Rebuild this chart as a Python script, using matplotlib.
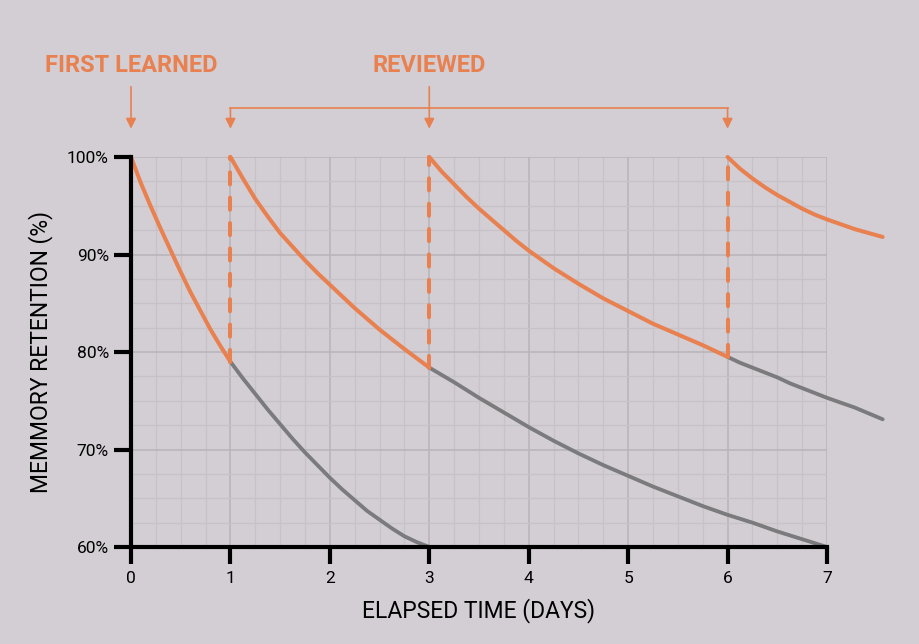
import matplotlib
matplotlib.use("Agg")
import matplotlib.pyplot as plt
from matplotlib.ticker import MultipleLocator, FuncFormatter

# ==========================================
# DATA
# ==========================================
# first learning, orange until first review
learn_t = [0, 0.1, 0.2, 0.3, 0.4, 0.5, 0.6, 0.7, 0.8, 0.9, 1.0]
learn_r = [100, 97.3, 94.9, 92.6, 90.4, 88.2, 86.1, 84.2, 82.3, 80.6, 79.0]
# forgetting without review (gray)
forget1_t = [1.0, 1.125, 1.25, 1.375, 1.5, 1.625, 1.75, 1.875, 2.0,
             2.125, 2.25, 2.375, 2.5, 2.625, 2.75, 2.875, 3.0]
forget1_r = [79.0, 77.3, 75.7, 74.1, 72.6, 71.1, 69.7, 68.4, 67.1,
             65.9, 64.8, 63.7, 62.8, 61.9, 61.1, 60.5, 60.0]

review1_t = [1.0, 1.125, 1.25, 1.375, 1.5, 1.625, 1.75, 1.875, 2.0,
             2.25, 2.5, 2.75, 3.0]
review1_r = [100, 97.8, 95.7, 93.9, 92.2, 90.8, 89.4, 88.1, 86.9,
             84.5, 82.3, 80.3, 78.4]
forget2_t = [3.0, 3.25, 3.5, 3.75, 4.0, 4.25, 4.5, 4.75, 5.0, 5.25, 5.5,
             5.75, 6.0, 6.25, 6.5, 6.75, 7.0]
forget2_r = [78.4, 76.9, 75.3, 73.8, 72.3, 70.9, 69.6, 68.4, 67.3, 66.2, 65.2,
             64.2, 63.3, 62.5, 61.6, 60.8, 60.0]

review2_t = [3.0, 3.125, 3.25, 3.375, 3.5, 3.625, 3.75, 3.875, 4.0,
             4.25, 4.5, 4.75, 5.0, 5.25, 5.5, 5.75, 6.0]
review2_r = [100, 98.5, 97.2, 95.9, 94.7, 93.6, 92.5, 91.4, 90.4,
             88.6, 87.0, 85.5, 84.2, 82.9, 81.8, 80.7, 79.5]
forget3_t = [6.0, 6.125, 6.25, 6.375, 6.5, 6.625, 6.75, 6.875, 7.0,
             7.14, 7.28, 7.42, 7.56]
forget3_r = [79.5, 78.9, 78.4, 77.9, 77.4, 76.8, 76.3, 75.8, 75.3,
             74.8, 74.3, 73.7, 73.1]

review3_t = [6.0, 6.125, 6.25, 6.375, 6.5, 6.625, 6.75, 6.875, 7.0,
             7.14, 7.28, 7.42, 7.56]
review3_r = [100, 98.8, 97.8, 96.9, 96.1, 95.4, 94.7, 94.1, 93.6,
             93.1, 92.6, 92.2, 91.8]

review_days = [1, 3, 6]
review_drop = [79.0, 78.4, 79.5]

x_ticks = [0, 1, 2, 3, 4, 5, 6, 7]
y_ticks = [60, 70, 80, 90, 100]

# ==========================================
# STYLE
# ==========================================
BG = "#d3ced4"
ORANGE = "#e8804f"
GRAY = "#7b7a7c"
plt.rcParams["font.family"] = ["Roboto", "DejaVu Sans"]

fig = plt.figure(figsize=(9.2, 6.44), dpi=100, facecolor=BG)
ax = fig.add_axes([0.1424, 0.1506, 0.7565, 0.6056])
ax.set_facecolor(BG)

ax.set_xlim(0, 7)
ax.set_ylim(60, 100)

# grid
ax.xaxis.set_major_locator(MultipleLocator(1))
ax.xaxis.set_minor_locator(MultipleLocator(0.25))
ax.yaxis.set_major_locator(MultipleLocator(10))
ax.yaxis.set_minor_locator(MultipleLocator(2.5))
ax.grid(which="major", color="#b9b5ba", lw=1.2, zorder=0)
ax.grid(which="minor", color="#c6c2c7", lw=0.9, zorder=0)
ax.set_axisbelow(True)

# curves
lw = 2.9
for t, r in [(learn_t, learn_r), (review1_t, review1_r),
             (review2_t, review2_r), (review3_t, review3_r)]:
    ax.plot(t, r, color=ORANGE, lw=lw, solid_capstyle="round",
            solid_joinstyle="round", clip_on=False, zorder=4)
for t, r in [(forget1_t, forget1_r), (forget2_t, forget2_r), (forget3_t, forget3_r)]:
    ax.plot(t, r, color=GRAY, lw=lw * 0.95, solid_capstyle="round",
            solid_joinstyle="round", clip_on=False, zorder=3)

# dashed review jumps
for d, low in zip(review_days, review_drop):
    ax.plot([d, d], [low, 100], color=ORANGE, lw=lw, linestyle=(0, (3.0, 3.3)),
            dash_capstyle="round", clip_on=False, zorder=4)

# spines and ticks
for s in ["top", "right"]:
    ax.spines[s].set_visible(False)
for s in ["left", "bottom"]:
    ax.spines[s].set_linewidth(3)
    ax.spines[s].set_color("black")
    ax.spines[s].set_zorder(5)
ax.set_xticks(x_ticks)
ax.set_yticks(y_ticks)
ax.yaxis.set_major_formatter(FuncFormatter(lambda v, p: f"{int(v)}%"))
ax.tick_params(which="major", length=12, width=3, color="black",
               labelsize=12.5, labelcolor="black")
ax.tick_params(axis="y", pad=4)
ax.tick_params(axis="x", pad=5)
ax.tick_params(which="minor", length=0)

ax.set_xlabel("ELAPSED TIME (DAYS)", fontsize=16.5, labelpad=9)
ax.set_ylabel("MEMMORY RETENTION (%)", fontsize=16.5, labelpad=10)

# annotations above the plot
arrow_kw = dict(arrowstyle="-|>,head_length=0.6,head_width=0.3", color=ORANGE,
                lw=1.2, shrinkA=0, shrinkB=0, mutation_scale=10)
ax.annotate("", xy=(0, 102.9), xytext=(0, 107.2), arrowprops=arrow_kw,
            annotation_clip=False)
ax.annotate("", xy=(3, 102.9), xytext=(3, 107.2), arrowprops=arrow_kw,
            annotation_clip=False)
for d in [1, 6]:
    ax.annotate("", xy=(d, 102.9), xytext=(d, 105.0), arrowprops=arrow_kw,
                annotation_clip=False)
ax.plot([1, 6], [105.0, 105.0], color=ORANGE, lw=1.2, clip_on=False)

ax.text(0, 108.7, "FIRST LEARNED", ha="center", va="baseline", fontsize=17,
        fontweight="bold", color=ORANGE)
ax.text(3, 108.7, "REVIEWED", ha="center", va="baseline", fontsize=17,
        fontweight="bold", color=ORANGE)

plt.savefig("out.png", dpi=100, facecolor=BG)
plt.close()
